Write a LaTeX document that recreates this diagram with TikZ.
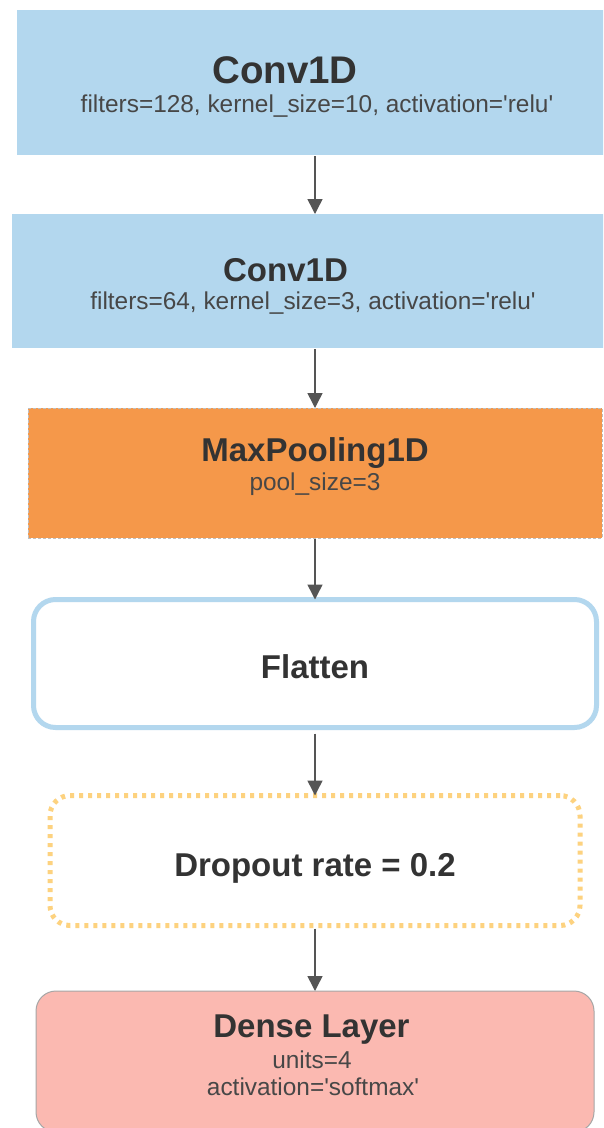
\documentclass[tikz,border=0pt]{standalone}
\usepackage{fontspec}
\setmainfont{Liberation Sans}
\usetikzlibrary{arrows.meta}

\definecolor{convblue}{HTML}{B3D7EE}
\definecolor{poolorange}{HTML}{F5984A}
\definecolor{densered}{HTML}{FBB9B1}
\definecolor{dropyellow}{HTML}{FDD27F}
\definecolor{txtgray}{HTML}{333333}
\definecolor{arrowgray}{HTML}{555555}

\begin{document}
\begin{tikzpicture}[x=1pt,y=-1pt,
		layer/.style={rectangle,inner sep=0pt,outer sep=0pt},
		title/.style={anchor=base,inner sep=0pt,text=txtgray,font=\bfseries\fontsize{33}{34}\selectfont},
		param/.style={anchor=base,inner sep=0pt,text=txtgray!90,font=\fontsize{24.4}{26}\selectfont},
		link/.style={draw=arrowgray,line width=1.5pt,shorten <=1pt,-{Triangle[width=15pt,length=15pt]}}]
		\newcommand{\q}{\textquotesingle}
		\useasboundingbox (0,0) rectangle (603,1128);
		\clip (0,0) rectangle (603,1128);
		\fill[white] (0,0) rectangle (603,1128);
		% layers
		\node[layer,fill=convblue,minimum width=596pt,minimum height=145pt] (conv1) at (315,82.5) {};
		\node[layer,fill=convblue,minimum width=606pt,minimum height=134pt] (conv2) at (315,281) {};
		\node[layer,fill=poolorange,draw=gray!50,densely dashed,line width=0.5pt,minimum width=574pt,minimum height=130pt] (pool) at (315,473) {};
		\node[layer,draw=convblue,line width=5pt,rounded corners=22pt,minimum width=563pt,minimum height=128pt] (flat) at (315,663.5) {};
		\node[layer,draw=dropyellow,line width=5pt,dash pattern=on 4pt off 5pt,rounded corners=20pt,minimum width=530pt,minimum height=130pt] (drop) at (315,860.5) {};
		\node[layer,fill=densered,draw=gray!70,line width=1pt,rounded corners=20pt,minimum width=558pt,minimum height=141pt] (dense) at (315,1061.5) {};
		% labels
		\node[title,font=\bfseries\fontsize{38.5}{40}\selectfont] (conv1t) at (285,83) {Conv1D};
		\node[param] (conv1p) at (317,112) {filters=128, kernel\_size=10, activation=\q relu\q};
		\node[title] (conv2t) at (285.5,281) {Conv1D};
		\node[param] (conv2p) at (313,309) {filters=64, kernel\_size=3, activation=\q relu\q};
		\node[title] (poolt) at (315,461) {MaxPooling1D};
		\node[param] (poolp) at (315,490) {pool\_size=3};
		\node[title] (flatt) at (315,678) {Flatten};
		\node[title] (dropt) at (315,876) {Dropout rate = 0.2};
		\node[title] (denset) at (311.5,1037) {Dense Layer};
		\node[param] (densep) at (312,1068) {units=4};
		\node[param] (densea) at (313,1095) {activation=\q softmax\q};
		% connectors
		\draw[link] (conv1) -- (conv2);
		\draw[link] (conv2) -- (pool);
		\draw[link] (pool) -- (flat);
		\draw[link,shorten <=6pt] (flat) -- (drop);
		\draw[link,shorten <=3pt] (drop) -- (dense);
\end{tikzpicture}
\end{document}
